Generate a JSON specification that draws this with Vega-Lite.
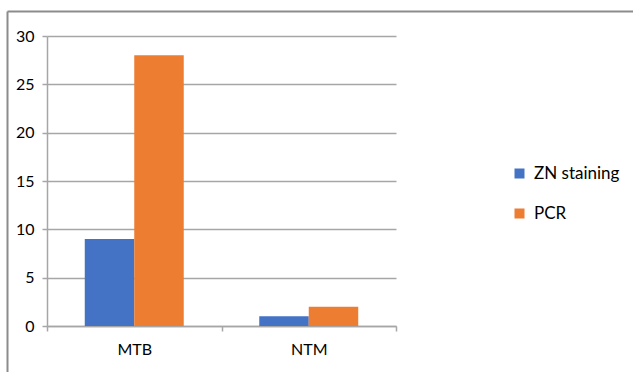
{
  "$schema": "https://vega.github.io/schema/vega-lite/v6.json",
  "width": 626,
  "height": 361,
  "autosize": {"type": "none"},
  "padding": {"left": 7, "top": 11, "right": 0, "bottom": 0},
  "background": "white",
  "config": {"view": {"stroke": null}, "font": "Lato"},
  "data": {
    "values": [
      {"cat": "MTB", "method": "ZN staining", "value": 9},
      {"cat": "MTB", "method": "PCR", "value": 28},
      {"cat": "NTM", "method": "ZN staining", "value": 1},
      {"cat": "NTM", "method": "PCR", "value": 2}
    ]
  },
  "layer": [
    {
      "mark": {"type": "bar"},
      "encoding": {
        "x": {
          "field": "cat", "type": "nominal", "sort": ["MTB", "NTM"],
          "scale": {"range": [40, 389], "paddingInner": 0, "paddingOuter": 0},
          "axis": {
            "orient": "bottom", "offset": -46, "title": null, "labelAngle": 0,
            "tickBand": "extent", "tickSize": 5, "tickColor": "#a6a6a6", "tickWidth": 1.5,
            "domainColor": "#a6a6a6", "domainWidth": 1.5,
            "labelFont": "Lato", "labelFontSize": 16, "labelColor": "#000000", "labelPadding": 10,
            "grid": false
          }
        },
        "xOffset": {
          "field": "method", "type": "nominal", "sort": ["ZN staining", "PCR"],
          "scale": {"paddingInner": 0, "paddingOuter": 0.763}
        },
        "y": {
          "field": "value", "type": "quantitative",
          "scale": {"domain": [0, 30], "range": [315, 25], "nice": false},
          "axis": {
            "orient": "left", "offset": -40, "title": null, "values": [0, 5, 10, 15, 20, 25, 30],
            "tickSize": 5, "tickColor": "#a6a6a6", "tickWidth": 1.5,
            "domainColor": "#a6a6a6", "domainWidth": 1.5,
            "grid": true, "gridColor": "#a6a6a6", "gridWidth": 1.5,
            "labelFont": "Lato", "labelFontSize": 16, "labelColor": "#000000", "labelPadding": 8
          }
        },
        "color": {
          "field": "method", "type": "nominal",
          "scale": {"domain": ["ZN staining", "PCR"], "range": ["#4472C4", "#ED7D31"]},
          "legend": {
            "title": null, "orient": "none", "legendX": 504, "legendY": 154,
            "symbolType": "square", "symbolSize": 100, "symbolStrokeWidth": 0,
            "labelFont": "Lato", "labelFontSize": 17, "labelColor": "#000000",
            "labelOffset": 6, "rowPadding": 22, "padding": 0
          }
        }
      }
    },
    {
      "mark": {"type": "point", "opacity": 0},
      "encoding": {
        "x": {
          "field": "value", "type": "quantitative", "scale": {"domain": [0, 30], "nice": false},
          "axis": {"orient": "top", "domain": true, "domainColor": "#8c8c8c", "domainWidth": 2,
                   "ticks": false, "labels": false, "grid": false, "title": null}
        },
        "y": {
          "field": "value", "type": "quantitative", "scale": {"domain": [0, 30], "nice": false},
          "axis": {"orient": "left", "offset": 0, "domain": true, "domainColor": "#8c8c8c", "domainWidth": 2,
                   "ticks": false, "labels": false, "grid": false, "title": null}
        }
      }
    }
  ],
  "resolve": {
    "scale": {"x": "independent", "y": "independent"},
    "axis": {"x": "independent", "y": "independent"}
  }
}
